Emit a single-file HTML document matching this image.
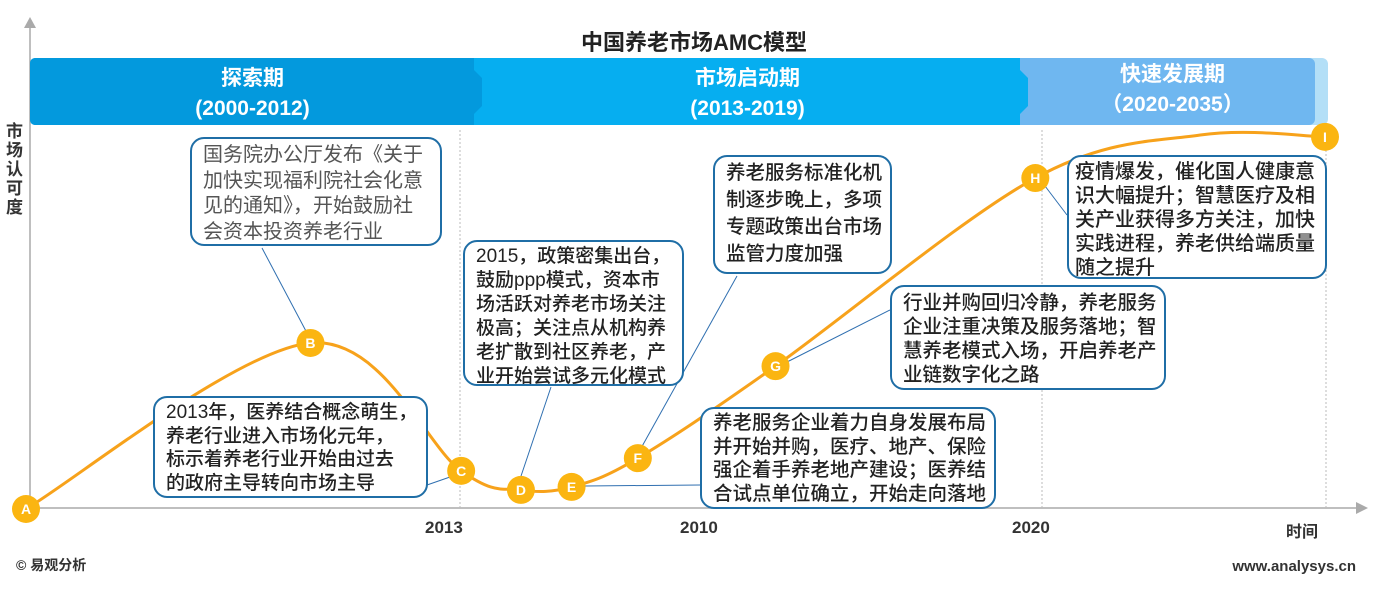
<!DOCTYPE html>
<html><head><meta charset="utf-8">
<style>
body{margin:0;width:1389px;height:594px;background:#fff;position:relative;overflow:hidden;font-family:"Liberation Sans","Noto Sans CJK SC",sans-serif;}
.box{position:absolute;border:2px solid #1f6ea6;border-radius:14px;background:#fff;padding:6px 8px 6px 11px;box-sizing:border-box;color:#222;font-weight:500;white-space:nowrap;overflow:hidden;}
.ph{position:absolute;color:#fff;text-align:center;font-size:21px;line-height:30px;font-weight:bold;}
.t{position:absolute;font-size:17px;font-weight:bold;color:#333;}
</style></head><body>
<svg id="chart" width="1389" height="594" style="position:absolute;left:0;top:0">
  <text x="694" y="50" text-anchor="middle" font-size="22" font-weight="bold" fill="#222">中国养老市场AMC模型</text>
  <line x1="30" y1="25" x2="30" y2="512" stroke="#aaa" stroke-width="1.5"/>
  <polygon points="24,28 36,28 30,17" fill="#aaa"/>
  <line x1="30" y1="508" x2="1360" y2="508" stroke="#aaa" stroke-width="1.5"/>
  <polygon points="1356,502 1356,514 1368,508" fill="#aaa"/>
  <rect x="30" y="58" width="1298" height="67" rx="6" fill="#b3dff7"/>
  <rect x="30" y="58" width="1285" height="67" rx="6" fill="#6fb7f0"/>
  <path d="M30,64 Q30,58 36,58 L1020,58 L1020,70 L1028,78 L1028,106 L1020,114 L1020,125 L36,125 Q30,125 30,119 Z" fill="#06aef0"/>
  <path d="M30,64 Q30,58 36,58 L474,58 L474,70 L482,78 L482,106 L474,114 L474,125 L36,125 Q30,125 30,119 Z" fill="#0399dd"/>
  <g stroke="#bbb" stroke-dasharray="2,2" stroke-width="1">
    <line x1="460" y1="130" x2="460" y2="508"/><line x1="1042" y1="130" x2="1042" y2="508"/><line x1="1326" y1="130" x2="1326" y2="508"/>
  </g>
  <g id="connectors" stroke="#2f6fb0" stroke-width="1" fill="none">
    <line x1="262" y1="248" x2="307" y2="333"/>
    <line x1="427" y1="485" x2="450" y2="477"/>
    <line x1="551" y1="387" x2="519" y2="482"/>
    <line x1="737" y1="276" x2="640" y2="450"/>
    <line x1="890" y1="310" x2="787" y2="362"/>
    <line x1="700" y1="485" x2="585" y2="486"/>
    <line x1="1045" y1="186" x2="1067" y2="215"/>
  </g>
  <path id="curve" fill="none" stroke="#f7a21b" stroke-width="3"/>
  <g id="points"></g>
</svg>
<div class="ph" style="left:30px;top:64px;width:445px">探索期<br>(2000-2012)</div>
<div class="ph" style="left:475px;top:64px;width:545px">市场启动期<br>(2013-2019)</div>
<div class="ph" style="left:1030px;top:60px;width:285px">快速发展期<br>（2020-2035）</div>
<div style="position:absolute;left:6px;top:122px;width:20px;font-size:17px;line-height:19px;font-weight:bold;color:#333">市场认可度</div>
<div class="t" style="left:425px;top:518px">2013</div>
<div class="t" style="left:680px;top:518px">2010</div>
<div class="t" style="left:1012px;top:518px">2020</div>
<div class="t" style="left:1286px;top:518px;font-size:16px">时间</div>
<div class="box" style="left:190px;top:137px;width:252px;height:109px;color:#555;font-weight:normal;font-size:20px;line-height:25.5px;padding-top:4px">国务院办公厅发布《关于<br>加快实现福利院社会化意<br>见的通知》，开始鼓励社<br>会资本投资养老行业</div>
<div class="box" style="left:463px;top:240px;width:221px;height:146px;font-size:19px;line-height:24px;padding-top:3px">2015，政策密集出台，<br>鼓励ppp模式，资本市<br>场活跃对养老市场关注<br>极高；关注点从机构养<br>老扩散到社区养老，产<br>业开始尝试多元化模式</div>
<div class="box" style="left:713px;top:155px;width:179px;height:119px;padding-top:3px;font-size:19.5px;line-height:27px">养老服务标准化机<br>制逐步晚上，多项<br>专题政策出台市场<br>监管力度加强</div>
<div class="box" style="left:1067px;top:155px;width:260px;height:124px;padding:3px 6px;font-size:20px;line-height:24px">疫情爆发，催化国人健康意<br>识大幅提升；智慧医疗及相<br>关产业获得多方关注，加快<br>实践进程，养老供给端质量<br>随之提升</div>
<div class="box" style="left:890px;top:285px;width:276px;height:105px;padding-top:4px;font-size:19.5px;line-height:24px">行业并购回归冷静，养老服务<br>企业注重决策及服务落地；智<br>慧养老模式入场，开启养老产<br>业链数字化之路</div>
<div class="box" style="left:700px;top:407px;width:296px;height:102px;padding-top:3px;font-size:19.5px;line-height:23.5px">养老服务企业着力自身发展布局<br>并开始并购，医疗、地产、保险<br>强企着手养老地产建设；医养结<br>合试点单位确立，开始走向落地</div>
<div class="box" style="left:153px;top:396px;width:275px;height:102px;padding-top:3px;font-size:19px;line-height:23.5px">2013年，医养结合概念萌生，<br>养老行业进入市场化元年，<br>标示着养老行业开始由过去<br>的政府主导转向市场主导</div>
<div style="position:absolute;left:16px;top:555px;font-size:14px;font-weight:bold;color:#333">© 易观分析</div>
<div style="position:absolute;right:33px;top:558px;font-size:15px;font-weight:bold;color:#333">www.analysys.cn</div>
<script>
const stageLabels = ["A","B","C","D","E","F","G","H","","I"];
const timeValues = [0,21.9,33.5,38.1,42,47.1,57.7,77.7,90.4,100];
const recognitionValues = [0,44.4,10.2,5.1,5.9,13.6,38.2,88.5,100,99.5];
function xs(t){return 26+t*(1325-26)/100;}
function ys(v){return 509-v*(509-135)/100;}
const pts=timeValues.map((t,i)=>[xs(t),ys(recognitionValues[i])]);
let d="M"+pts[0][0]+","+pts[0][1];
for(let i=0;i<pts.length-1;i++){
  const p0=pts[Math.max(0,i-1)],p1=pts[i],p2=pts[i+1],p3=pts[Math.min(pts.length-1,i+2)];
  const c1=[p1[0]+(p2[0]-p0[0])/6,p1[1]+(p2[1]-p0[1])/6];
  const c2=[p2[0]-(p3[0]-p1[0])/6,p2[1]-(p3[1]-p1[1])/6];
  d+=` C${c1[0]},${c1[1]} ${c2[0]},${c2[1]} ${p2[0]},${p2[1]}`;
}
document.getElementById('curve').setAttribute('d',d);
const g=document.getElementById('points');
const ns="http://www.w3.org/2000/svg";
stageLabels.forEach((lab,i)=>{
  if(!lab)return;
  const c=document.createElementNS(ns,'circle');
  c.setAttribute('cx',pts[i][0]);c.setAttribute('cy',pts[i][1]);c.setAttribute('r',14);c.setAttribute('fill','#fbb511');
  
  
  g.appendChild(c);
  const t=document.createElementNS(ns,'text');
  t.setAttribute('x',pts[i][0]);t.setAttribute('y',pts[i][1]+5);t.setAttribute('text-anchor','middle');
  t.setAttribute('font-size','14');t.setAttribute('font-weight','bold');t.setAttribute('fill','#fff');
  t.textContent=lab;
  
  
  g.appendChild(t);
});
</script>
</body></html>
